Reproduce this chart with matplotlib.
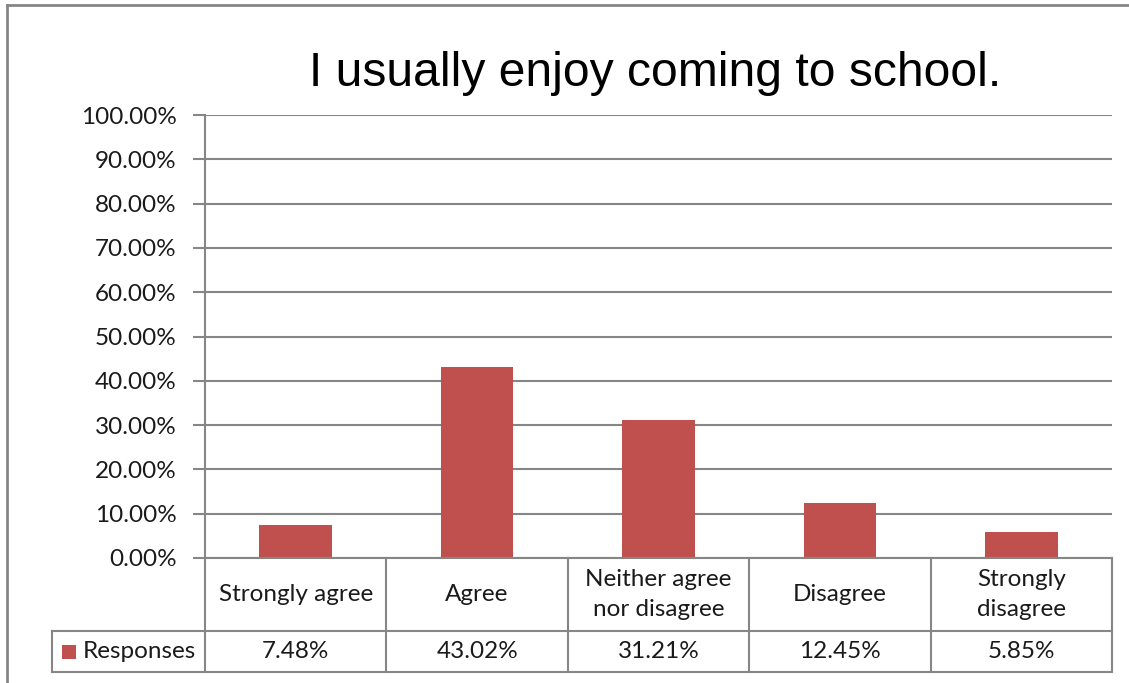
import matplotlib
matplotlib.use("Agg")
import matplotlib.pyplot as plt
from matplotlib.lines import Line2D
from matplotlib.patches import Rectangle
import matplotlib.transforms as mtransforms

categories = ["Strongly agree", "Agree", "Neither agree\nnor disagree", "Disagree", "Strongly\ndisagree"]
values = [7.48, 43.02, 31.21, 12.45, 5.85]
value_labels = ["7.48%", "43.02%", "31.21%", "12.45%", "5.85%"]
series_name = "Responses"
yticks = [0, 10, 20, 30, 40, 50, 60, 70, 80, 90, 100]
title = "I usually enjoy coming to school."

W, H = 1129, 683
BAR = "#C0504D"
GRID = "#868686"
TXT_FONT = "Lato"
FS = 17.5
TC = "#1a1a1a"

fig = plt.figure(figsize=(W / 100, H / 100), dpi=100)
fig.patch.set_facecolor("white")

left_px, right_px, top_px, bot_px = 205, 1112, 115, 558
ax = fig.add_axes([left_px / W, 1 - bot_px / H, (right_px - left_px) / W, (bot_px - top_px) / H])

x = list(range(len(categories)))
ax.bar(x, values, width=0.40, color=BAR, zorder=3)
ax.set_xlim(-0.5, len(categories) - 0.5)
ax.set_ylim(0, 100)
ax.set_yticks(yticks)
ax.set_yticklabels([f"{t:.2f}%" for t in yticks], fontfamily=TXT_FONT, fontsize=FS, color=TC)
ax.set_xticks([])
ax.tick_params(axis="y", length=9, width=1.5, color=GRID, pad=11.5)
ax.grid(axis="y", color=GRID, linewidth=1.5, zorder=0)
for s in ["top", "right", "bottom"]:
    ax.spines[s].set_visible(False)
ax.spines["left"].set_color(GRID)
ax.spines["left"].set_linewidth(1.5)

# table in blended coords: x data, y axes
tr = mtransforms.blended_transform_factory(ax.transData, ax.transAxes)
ax_h = bot_px - top_px
col_w = (right_px - left_px) / len(categories)
row1 = -(631 - bot_px) / ax_h
row2 = -(672 - bot_px) / ax_h
xl = -0.5 - (left_px - 52) / col_w
xr = len(categories) - 0.5
lk = dict(color=GRID, linewidth=1.5, transform=tr, clip_on=False, zorder=4)

ax.add_line(Line2D([-0.5, xr], [0, 0], **lk))
ax.add_line(Line2D([xl, xr], [row1, row1], **lk))
ax.add_line(Line2D([xl, xr], [row2, row2], **lk))
ax.add_line(Line2D([xl, xl], [row1, row2], **lk))
ax.add_line(Line2D([-0.5, -0.5], [0, row2], **lk))
for i in range(len(categories)):
    b = i + 0.5
    ax.add_line(Line2D([b, b], [0, row2], **lk))

for i, (c, v) in enumerate(zip(categories, value_labels)):
    ax.text(i, row1 / 2, c, transform=tr, ha="center", va="center", fontfamily=TXT_FONT,
            fontsize=FS, color=TC, linespacing=1.5)
    ax.text(i, (row1 + row2) / 2, v, transform=tr, ha="center", va="center", fontfamily=TXT_FONT,
            fontsize=FS, color=TC)

# legend key in table
sq_w = 14 / col_w
sq_h = 14 / ax_h
ax.add_patch(Rectangle((xl + 10 / col_w, (row1 + row2) / 2 - sq_h / 2), sq_w, sq_h, facecolor=BAR,
                       edgecolor="none", transform=tr, clip_on=False))
ax.text(xl + 31 / col_w, (row1 + row2) / 2, series_name, transform=tr, ha="left", va="center",
        fontfamily=TXT_FONT, fontsize=FS, color=TC)

fig.text(655 / W, 1 - 73 / H, title, ha="center", va="center", fontfamily="Liberation Sans",
         fontsize=34.6, color="black")

# outer chart border
fig.add_artist(Line2D([7 / W, 7 / W], [0, 1 - 5 / H], transform=fig.transFigure, color=GRID, linewidth=2))
fig.add_artist(Line2D([7 / W, 1], [1 - 5 / H, 1 - 5 / H], transform=fig.transFigure, color=GRID, linewidth=2))

fig.savefig("out.png", dpi=100)
